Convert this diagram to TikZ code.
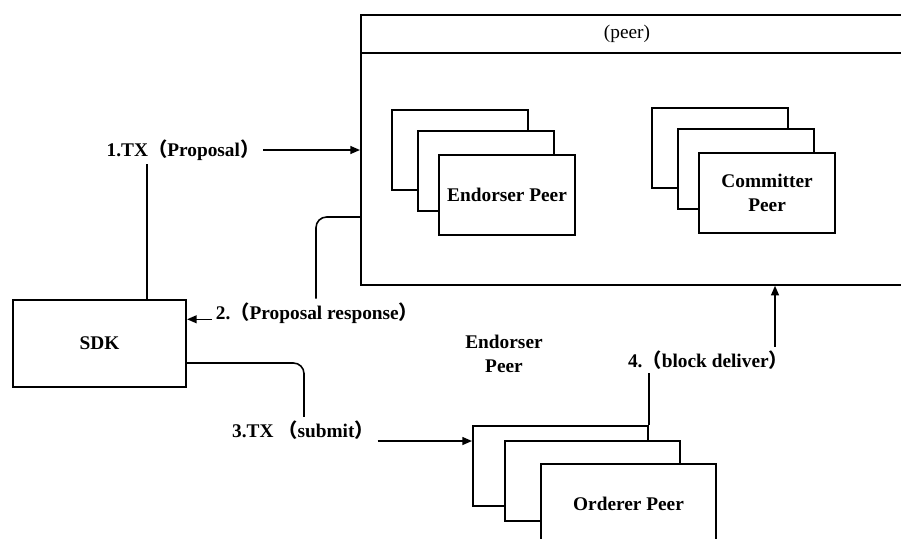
\documentclass[tikz,border=0pt]{standalone}
\usepackage{fontspec}
\setmainfont{Liberation Serif}
\newfontfamily\cjk{Noto Sans CJK SC}
\usetikzlibrary{arrows.meta}
\newcommand{\lpar}{{\cjk （}}
\newcommand{\rpar}{{\cjk ）}}

\begin{document}
\begin{tikzpicture}[x=0.02cm,y=-0.02cm,
    font=\fontsize{11}{14}\selectfont\bfseries,
    >={Triangle[length=5.5pt,width=4.5pt]},
    stackbox/.style={draw,line width=1.2pt,fill=white,anchor=north west,
                     minimum width=2.72cm,minimum height=1.6cm,align=center,
                     inner sep=2pt},
    wirebox/.style={line width=0.9pt},
    lbl/.style={inner sep=2pt}]

  \useasboundingbox (0,0) rectangle (901,538);

  % peer container
  \node[draw,line width=1pt,anchor=north west,minimum width=11cm,
        minimum height=5.4cm] (peer) at (360,14) {};
  \draw[line width=1pt] (peer.west |- 0,53) -- (peer.east |- 0,53);
  \node[font=\fontsize{11}{14}\selectfont\mdseries] (peerhead) at (627,34) {(peer)};

  % endorser stack
  \node[stackbox] (e1) at (391,109) {};
  \node[stackbox] (e2) at (417,130) {};
  \node[stackbox] (e3) at (438,154) {Endorser Peer};

  % committer stack
  \node[stackbox] (c1) at (651,107) {};
  \node[stackbox] (c2) at (677,128) {};
  \node[stackbox] (c3) at (698,152) {Committer\\Peer};

  % orderer stack
  \node[stackbox,minimum width=3.5cm] (o1) at (472,425) {};
  \node[stackbox,minimum width=3.5cm] (o2) at (504,440) {};
  \node[stackbox,minimum width=3.5cm] (o3) at (540,463) {Orderer Peer};

  \node[draw,line width=1.2pt,anchor=north west,minimum width=3.46cm,
        minimum height=1.74cm] (sdk) at (12,299) {SDK};

  \node[align=center] (endtxt) at (504,354) {Endorser\\Peer};

  % labels
  \node[lbl] (l1) at (183,150) {1.TX\lpar Proposal\rpar};
  \node[lbl,anchor=west] (l2) at (212,313) {2.\lpar Proposal response\rpar};
  \node[lbl] (l3) at (303,430) {3.TX \lpar submit\rpar};
  \node[lbl] (l4) at (708,360) {4.\lpar block deliver\rpar};

  % connectors
  \draw[wirebox] (sdk.north -| 147,0) -- (l1.south -| 147,0);
  \draw[wirebox,->] (l1.east) -- (l1.east -| peer.west);
  \draw[wirebox,rounded corners=6] (peer.west |- 0,217) -- (316,217)
    -- (l2.north -| 316,0);
  \draw[wirebox,->] (l2.base west) -- (l2.base west -| sdk.east);
  \draw[wirebox,rounded corners=6] (sdk.east |- 0,363) -- (304,363)
    -- (l3.north -| 304,0);
  \draw[wirebox,->] (l3.east |- 0,441) -- (o1.west |- 0,441);
  \draw[wirebox] (o1.north east) -- (o1.north east |- l4.south);
  \draw[wirebox,->] (l4.north -| 775,0) -- (peer.south -| 775,0);
\end{tikzpicture}
\end{document}
